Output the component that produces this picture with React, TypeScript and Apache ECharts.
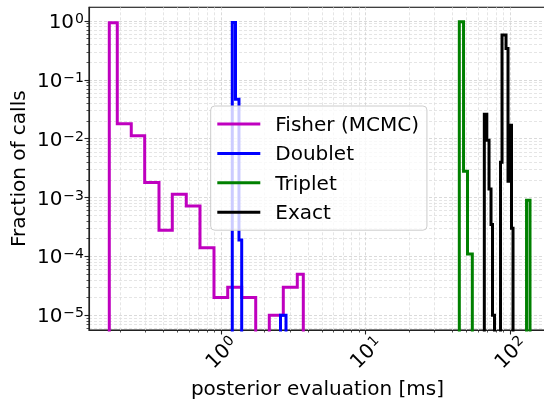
import React, { useEffect, useRef } from 'react';
import * as echarts from 'echarts';

// ---- data: histogram bin edges (ms) and fraction of calls per bin ----
const fisherEdges = [0.1687, 0.1916, 0.2394, 0.2965, 0.3724, 0.4603, 0.5752, 0.7157, 0.8945, 1.113, 1.391, 1.739, 2.159, 2.699, 3.373, 3.712];
const fisherFrac = [0.936, 0.018, 0.0112, 0.0018, 0.00028, 0.00114, 0.00072, 0.00014, 2.0e-5, 3.0e-5, 2.0e-5, 0, 1.0e-5, 3.0e-5, 5.0e-5];

const doubletEdges = [1.197, 1.26, 1.332, 1.391, 2.581, 2.818];
const doubletFrac = [0.94, 0.047, 1.9e-4, 0, 1.0e-5];

const tripletEdges = [44.58, 47.68, 50.81, 54.84, 130.1, 137.5];
const tripletFrac = [0.97, 0.0028, 1.1e-4, 0, 9.0e-4];

const exactEdges = [66.4, 69.09, 71.57, 73.88, 75.67, 78.11, 85.97, 88.04, 93.83, 96.85, 100.0, 102.4, 104.9];
const exactFrac = [0.026, 0.0094, 0.0014, 3.5e-4, 1.0e-5, 0, 0.004, 0.58, 0.34, 0.0019, 0.017, 3.0e-4];

const seriesNames = ['Fisher (MCMC)', 'Doublet', 'Triplet', 'Exact'];
const seriesColors = ['#bf00bf', '#0000ff', '#008000', '#000000'];

// ---- axes ----
const X_MIN = 0.1221;
const X_MAX = 177.4;
const Y_MIN = 5.63e-6;
const Y_MAX = 1.709;
const xMajorTicks = [1, 10, 100];
const yMajorTicks = [1e-5, 1e-4, 1e-3, 1e-2, 1e-1, 1];
const minorMultipliers = [2, 3, 4, 5, 6, 7, 8, 9];
const xDecades = [0.1, 1, 10, 100];
const yDecades = [1e-6, 1e-5, 1e-4, 1e-3, 1e-2, 1e-1, 1];

const FONT = 'DejaVu Sans';
const FLOOR = 1e-9;

function minorTicks(decades: number[], lo: number, hi: number) {
  const out: number[] = [];
  decades.forEach((d) => minorMultipliers.forEach((m) => {
    const v = Number((d * m).toPrecision(6));
    if (v > lo && v < hi) out.push(v);
  }));
  return out;
}

function stepPoints(edges: number[], fracs: number[]) {
  const pts: number[][] = [[edges[0], FLOOR]];
  fracs.forEach((f, i) => {
    const v = f > 0 ? f : FLOOR;
    pts.push([edges[i], v], [edges[i + 1], v]);
  });
  pts.push([edges[edges.length - 1], FLOOR]);
  return pts;
}

const powLabel = (v: number) => {
  const e = Math.round(Math.log10(v));
  const s = e < 0 ? '\u2212' + String(-e) : String(e);
  return `{b|10}{e|${s}}`;
};

const rich = {
  b: { fontSize: 20, fontFamily: FONT, color: '#000' },
  e: { fontSize: 14, fontFamily: FONT, color: '#000', verticalAlign: 'top', padding: [0, 0, 0, 1] },
};

const gridLine = { type: [3, 2], color: '#d0d0d0', width: 0.8 };
const minorGridLine = { type: [3, 2], color: '#dedede', width: 0.8 };
const spine = { color: '#222', width: 1.1 };

export default function App() {
  const ref = useRef<HTMLDivElement>(null);
  useEffect(() => {
    if (!ref.current) return;
    const chart = echarts.init(ref.current, undefined, { renderer: 'svg' });
    const datasets = [
      [fisherEdges, fisherFrac],
      [doubletEdges, doubletFrac],
      [tripletEdges, tripletFrac],
      [exactEdges, exactFrac],
    ];
    const option: any = {
      animation: false,
      textStyle: { fontFamily: FONT },
      grid: {
        left: 89, top: 7.3, width: 457, height: 322.7,
        containLabel: false, outerBoundsMode: 'none',
        show: true, borderColor: '#000', borderWidth: 1.1, backgroundColor: 'transparent',
      },
      legend: {
        data: seriesNames,
        orient: 'vertical',
        left: 210.7,
        top: 106,
        icon: 'rect',
        itemWidth: 43,
        itemHeight: 3,
        itemGap: 7.4,
        padding: [7, 8, 7, 6.6],
        backgroundColor: 'rgba(255,255,255,0.8)',
        borderColor: '#cccccc',
        borderWidth: 1,
        borderRadius: 4,
        textStyle: { fontSize: 20, lineHeight: 22, color: '#000', fontFamily: FONT, padding: [0, 0, 0, 10] },
        selectedMode: false,
        z: 10,
      },
      xAxis: [
        {
          type: 'log', logBase: 10, min: X_MIN, max: X_MAX, position: 'bottom',
          axisLine: { show: true, lineStyle: spine },
          axisTick: { show: true, customValues: xMajorTicks, length: 4.5, lineStyle: spine },
          axisLabel: {
            customValues: xMajorTicks, rotate: 45, align: 'center', verticalAlign: 'middle', margin: 22,
            formatter: powLabel, rich,
          },
          splitLine: { show: true, lineStyle: gridLine },
          minorTick: { show: false }, minorSplitLine: { show: false },
          name: 'posterior evaluation [ms]', nameLocation: 'middle', nameGap: 47.5,
          nameMoveOverlap: false,
          nameTextStyle: { fontSize: 20, lineHeight: 20, color: '#000', fontFamily: FONT },
        },
        {
          type: 'log', logBase: 10, min: X_MIN, max: X_MAX, position: 'bottom', gridIndex: 0,
          axisLine: { show: false },
          axisTick: { show: true, customValues: minorTicks(xDecades, X_MIN, X_MAX), length: 2.5, lineStyle: { color: '#222', width: 0.8 } },
          axisLabel: { show: false },
          splitLine: { show: true, lineStyle: minorGridLine },
        },
      ],
      yAxis: [
        {
          type: 'log', logBase: 10, min: Y_MIN, max: Y_MAX, position: 'left',
          axisLine: { show: true, lineStyle: spine },
          axisTick: { show: true, customValues: yMajorTicks, length: 4.5, lineStyle: spine },
          axisLabel: { customValues: yMajorTicks, margin: 5, formatter: powLabel, rich },
          splitLine: { show: true, lineStyle: gridLine },
          name: 'Fraction of calls', nameLocation: 'middle', nameGap: 61,
          nameMoveOverlap: false,
          nameTextStyle: { fontSize: 20, color: '#000', fontFamily: FONT },
        },
        {
          type: 'log', logBase: 10, min: Y_MIN, max: Y_MAX, position: 'left', gridIndex: 0,
          axisLine: { show: false },
          axisTick: { show: true, customValues: minorTicks(yDecades, Y_MIN, Y_MAX), length: 2.5, lineStyle: { color: '#222', width: 0.8 } },
          axisLabel: { show: false },
          splitLine: { show: true, lineStyle: minorGridLine },
        },
      ],
      series: datasets.map(([edges, fr], i) => ({
        name: seriesNames[i],
        type: 'line',
        xAxisIndex: 0,
        yAxisIndex: 0,
        data: stepPoints(edges, fr),
        symbol: 'none',
        showSymbol: false,
        clip: true,
        silent: true,
        color: seriesColors[i],
        itemStyle: { color: seriesColors[i] },
        lineStyle: { color: seriesColors[i], width: 3, join: 'miter', cap: 'butt' },
        z: 3 + i,
      })),
    };
    chart.setOption(option);
    return () => chart.dispose();
  }, []);
  return <div ref={ref} style={{ position: 'fixed', left: 0, top: 0, width: 544, height: 399 }} />;
}
